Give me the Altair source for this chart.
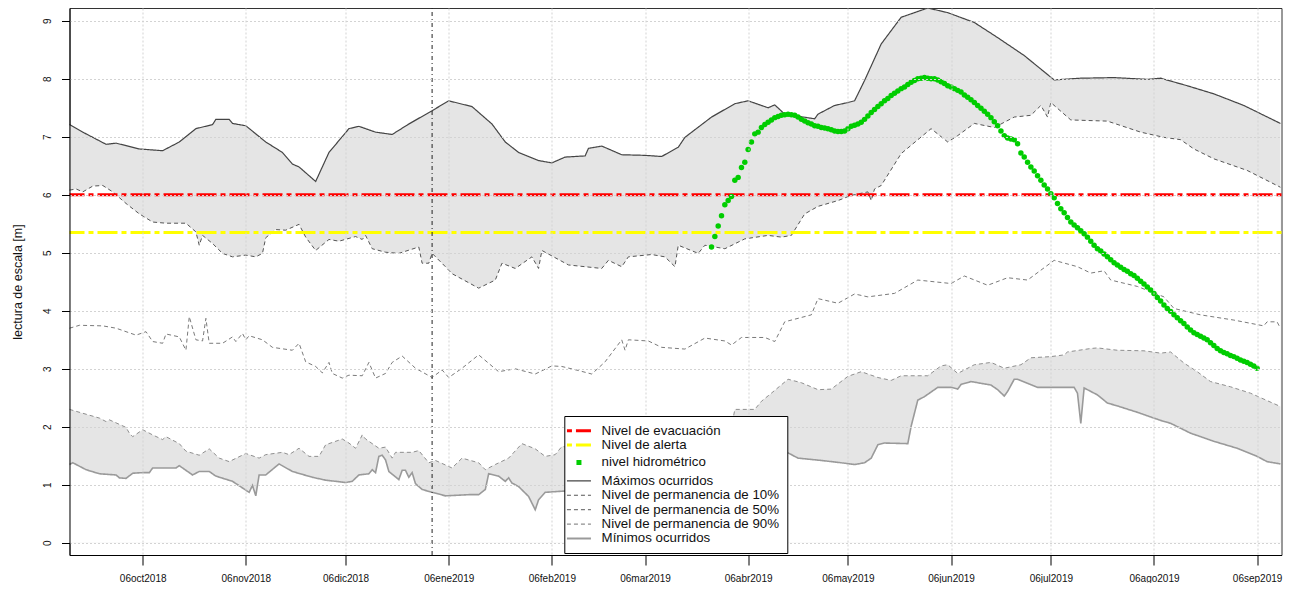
import altair as alt
import pandas as pd

FONT = "Liberation Sans"
BASE = "2018-10-06"  # día 0 de las series (días relativos)

# ---------------- datos ----------------
max_dias = [-22,-18,-11,-8,-1,6,11,16,21,22,26,27,31,37,42,45,47,52,56,62,65,70,75,80,87,92,99,105,109,113,119,123,127,133,134,138,144,151,156,161,163,171,178,182,188,190,193,202,203,208,212,214,217,222,228,236,242,250,257,265,274,282,292,302,306,314,322,331,342]
max_vals = [7.21,7.08,6.87,6.89,6.79,6.76,6.91,7.14,7.21,7.30,7.30,7.23,7.19,6.91,6.73,6.53,6.48,6.23,6.73,7.14,7.18,7.08,7.04,7.22,7.45,7.62,7.52,7.22,6.91,6.73,6.59,6.55,6.65,6.67,6.80,6.84,6.69,6.68,6.66,6.82,6.99,7.34,7.57,7.62,7.50,7.55,7.39,7.31,7.39,7.54,7.59,7.62,7.97,8.60,9.06,9.22,9.14,8.97,8.71,8.40,7.98,8.01,8.02,7.99,8.01,7.88,7.74,7.54,7.23]

p10_dias = [-22,-20,-18,-15,-12,-9,-5,-1,3,7,13,16,17,18,21,24,27,31,34,36,37,40,43,47,49,52,56,59,64,66,67,69,73,77,83,84,86,87,91,93,101,106,108,112,117,119,120,128,138,140,144,146,153,157,160,161,167,169,175,181,188,192,195,199,203,209,213,218,219,220,222,228,237,242,245,250,256,262,267,270,272,273,279,290,300,307,312,316,322,332,342]
p10_vals = [6.08,6.10,6.05,6.15,6.16,6.05,5.85,5.67,5.53,5.51,5.51,5.36,5.13,5.30,5.16,4.99,4.93,4.96,4.93,4.99,5.26,5.40,5.39,5.49,5.27,5.04,5.23,5.20,5.28,5.23,5.30,5.07,5.01,4.99,5.10,4.82,4.82,4.99,4.76,4.64,4.39,4.53,4.82,4.73,4.93,4.73,5.04,4.79,4.73,4.87,4.76,4.93,4.97,4.93,4.76,5.13,4.99,5.13,5.07,5.24,5.30,5.27,5.30,5.67,5.80,5.90,5.99,6.05,5.90,6.10,6.16,6.71,7.14,6.91,7.02,7.23,7.16,7.34,7.37,7.54,7.34,7.59,7.29,7.27,7.08,6.99,6.95,6.79,6.62,6.42,6.13]

p50_dias = [-22,-19,-12,-8,-2,1,3,6,7,11,13,14,16,18,19,20,24,27,28,30,31,32,36,39,45,47,49,52,54,56,57,60,62,66,68,70,73,75,78,82,87,90,92,96,101,107,112,118,123,126,131,135,139,144,145,146,152,156,163,169,175,177,180,187,190,193,201,203,209,214,218,226,233,238,243,247,254,260,266,274,281,285,289,291,299,307,310,318,328,337,338,341,342]
p50_vals = [3.70,3.75,3.74,3.70,3.58,3.64,3.47,3.44,3.60,3.55,3.32,3.90,3.50,3.48,3.87,3.44,3.44,3.55,3.47,3.61,3.50,3.57,3.50,3.37,3.32,3.44,3.12,3.04,2.93,3.11,2.92,2.84,2.89,2.88,3.11,2.84,2.92,3.11,3.22,3.01,2.85,2.98,2.85,3.01,3.24,2.95,3.00,2.91,3.05,3.04,2.97,2.91,3.12,3.50,3.32,3.50,3.48,3.37,3.34,3.53,3.48,3.41,3.54,3.54,3.47,3.81,3.93,4.21,4.13,4.29,4.24,4.30,4.53,4.50,4.47,4.60,4.44,4.57,4.53,4.87,4.76,4.65,4.69,4.53,4.42,4.24,4.04,3.93,3.84,3.74,3.81,3.81,3.70]

p90_dias = [-22,-13,-11,-10,-5,-4,-3,0,3,6,7,11,13,17,20,23,26,31,35,37,42,44,47,50,53,55,60,62,64,66,67,71,73,75,76,81,83,86,88,93,96,101,103,106,110,114,118,121,124,126,140,155,170,177,178,184,186,189,194,198,203,207,212,216,221,225,228,236,240,242,245,247,250,255,259,264,267,273,277,278,285,287,293,301,306,309,313,317,321,327,333,342]
p90_vals = [2.30,2.15,2.09,2.12,1.99,1.89,1.83,1.95,1.86,1.78,1.83,1.71,1.58,1.51,1.62,1.46,1.40,1.54,1.46,1.52,1.56,1.52,1.63,1.49,1.49,1.69,1.79,1.72,1.63,1.86,1.79,1.63,1.65,1.46,1.56,1.56,1.59,1.38,1.42,1.29,1.46,1.38,1.26,1.35,1.46,1.71,1.62,1.49,1.52,1.66,1.60,1.80,1.95,2.00,2.30,2.30,2.44,2.58,2.82,2.76,2.64,2.65,2.87,2.95,2.85,2.80,2.88,2.88,3.05,3.07,2.92,2.98,3.07,3.11,3.01,3.07,3.19,3.21,3.24,3.29,3.35,3.36,3.32,3.31,3.27,3.29,3.10,2.95,2.78,2.69,2.58,2.35]

min_dias = [-22,-21,-17,-13,-8,-7,-5,-3,0,2,3,10,11,15,17,20,22,27,32,33,34,35,37,41,45,51,55,61,63,65,68,69,70,71,72,73,74,77,78,79,80,81,82,84,87,91,98,101,103,104,107,109,110,111,113,116,118,119,121,126,135,150,165,180,194,197,204,210,214,217,219,221,223,230,231,233,235,239,243,245,246,249,255,257,259,260,262,263,269,280,281,282,283,287,290,293,299,306,309,315,322,329,335,338,342]
min_vals = [1.35,1.38,1.26,1.19,1.17,1.12,1.11,1.20,1.21,1.21,1.29,1.29,1.33,1.17,1.23,1.23,1.15,1.06,0.87,0.99,0.81,1.17,1.17,1.36,1.23,1.13,1.08,1.04,1.06,1.17,1.19,1.26,1.21,1.49,1.51,1.43,1.23,1.09,1.25,1.25,1.13,1.21,1.02,0.92,0.87,0.81,0.83,0.83,0.92,1.19,1.15,1.06,1.12,1.03,0.97,0.80,0.57,0.74,0.87,0.89,0.90,1.10,1.30,1.45,1.55,1.46,1.42,1.38,1.35,1.38,1.46,1.69,1.72,1.71,2.01,2.46,2.52,2.68,2.68,2.65,2.73,2.78,2.72,2.64,2.53,2.61,2.82,2.82,2.68,2.68,2.58,2.06,2.67,2.55,2.41,2.36,2.25,2.11,2.06,1.89,1.75,1.63,1.49,1.40,1.36]

hidro_inicio = "2019-03-26"
hidro_vals = [
    5.10,5.28,5.46,5.64,5.83,5.90,5.97,6.25,6.30,6.47,
    6.56,6.78,6.91,7.05,7.08,7.16,7.21,7.25,7.29,7.33,
    7.35,7.37,7.38,7.39,7.38,7.37,7.34,7.30,7.27,7.24,
    7.22,7.19,7.18,7.16,7.15,7.14,7.12,7.10,7.09,7.09,
    7.10,7.14,7.18,7.20,7.22,7.25,7.30,7.36,7.42,7.47,
    7.52,7.57,7.62,7.66,7.71,7.75,7.79,7.83,7.86,7.90,
    7.94,7.97,8.00,8.01,8.02,8.01,8.00,8.00,7.98,7.95,
    7.92,7.88,7.86,7.83,7.80,7.77,7.72,7.68,7.64,7.59,
    7.54,7.49,7.44,7.39,7.33,7.26,7.19,7.10,7.02,6.98,
    6.96,6.95,6.88,6.72,6.65,6.56,6.48,6.41,6.33,6.25,
    6.17,6.10,6.02,5.95,5.85,5.76,5.69,5.61,5.53,5.48,
    5.43,5.38,5.33,5.27,5.20,5.13,5.07,5.03,4.98,4.93,
    4.88,4.83,4.79,4.75,4.71,4.68,4.64,4.61,4.56,4.51,
    4.46,4.41,4.36,4.30,4.23,4.17,4.10,4.04,3.99,3.93,
    3.88,3.83,3.78,3.72,3.67,3.62,3.59,3.56,3.53,3.50,
    3.45,3.40,3.35,3.31,3.28,3.26,3.23,3.21,3.18,3.15,
    3.13,3.11,3.08,3.05,3.01,
]

niveles_nombre = ["Nivel de evacuación", "Nivel de alerta"]
niveles_valor = [6.0, 5.35]

anio_fecha = ["2019-01-01"]
anio_texto = ["2019"]
anio_y = [9.27]

mes_ticks = [(2018, 10), (2018, 11), (2018, 12), (2019, 1), (2019, 2), (2019, 3),
             (2019, 4), (2019, 5), (2019, 6), (2019, 7), (2019, 8), (2019, 9)]

SERIES = ["Nivel de evacuación", "Nivel de alerta", "nivel hidrométrico",
          "Máximos ocurridos", "Nivel de permanencia de 10%",
          "Nivel de permanencia de 50%", "Nivel de permanencia de 90%",
          "Mínimos ocurridos"]

# ---------------- estilos ----------------
COLORES = ["#ff0000", "#ffff00", "#00cd00", "#444444", "#555555", "#7a7a7a", "#8f8f8f", "#9a9a9a"]
DASHES = [[5, 4, 20, 4], [5, 4, 20, 4], [0, 9.5, 5, 1000], [1, 0], [4, 3], [4, 3], [4, 3], [1, 0]]
BAND = "#e5e5e5"
GRID = "#d3d3d3"


def serie_df(dias, vals, nombre):
    f = pd.Timestamp(BASE) + pd.to_timedelta(dias, unit="D")
    return pd.DataFrame({"fecha": f.strftime("%Y-%m-%d"), "valor": vals, "serie": nombre})


df_max = serie_df(max_dias, max_vals, SERIES[3])
df_p10 = serie_df(p10_dias, p10_vals, SERIES[4])
df_p50 = serie_df(p50_dias, p50_vals, SERIES[5])
df_p90 = serie_df(p90_dias, p90_vals, SERIES[6])
df_min = serie_df(min_dias, min_vals, SERIES[7])

hidro_f = pd.date_range(hidro_inicio, periods=len(hidro_vals), freq="D")
df_hidro = pd.DataFrame({"fecha": hidro_f.strftime("%Y-%m-%d"), "valor": hidro_vals})
df_niv = pd.DataFrame({"valor": niveles_valor, "serie": niveles_nombre})
df_anio = pd.DataFrame({"fecha": anio_fecha, "valor": anio_y, "texto": anio_texto})

# ---------------- escalas y ejes ----------------
x_scale = alt.Scale(type="utc",
                    domain=[alt.DateTime(year=2018, month=9, date=14, utc=True),
                            alt.DateTime(year=2019, month=9, date=13, hours=8, utc=True)])
y_scale = alt.Scale(domain=[-0.21, 9.22], nice=False, zero=False)

label_expr = ("utcFormat(datum.value, '%d') + "
              "['ene','feb','mar','abr','may','jun','jul','ago','sep','oct','nov','dic']"
              "[utcmonth(datum.value)] + utcFormat(datum.value, '%Y')")

x_axis = alt.Axis(values=[alt.DateTime(year=y, month=m, date=6, utc=True) for y, m in mes_ticks],
                  labelExpr=label_expr, title=None, labelFont=FONT, labelFontSize=10,
                  labelColor="#111", labelPadding=8, labelAngle=0, labelFlush=False,
                  labelOverlap=False, tickSize=10, tickColor="#000", domainColor="#000",
                  grid=True, gridColor=GRID, gridDash=[2, 2], zindex=1)
y_axis = alt.Axis(values=list(range(10)), title="lectura de escala [m]", titleFont=FONT,
                  titleFontSize=12.5, titleFontWeight="normal", titleColor="#111",
                  titleX=-52, titleY=273.5, titleAlign="center", titleBaseline="middle",
                  labelAngle=-90, labelAlign="center", labelBaseline="bottom",
                  labelFont=FONT, labelFontSize=10, labelColor="#111", labelPadding=9,
                  tickSize=8, tickColor="#000", domainColor="#000",
                  grid=True, gridColor=GRID, gridDash=[2, 2], zindex=1)

X = alt.X("fecha:T", scale=x_scale, axis=x_axis)
Y = alt.Y("valor:Q", scale=y_scale, axis=y_axis)

width_expr = ("datum.value == 'Nivel de evacuación' || datum.value == 'Nivel de alerta' ? 3 : "
              "datum.value == 'nivel hidrométrico' ? 5 : "
              "datum.value == 'Mínimos ocurridos' ? 2 : 1.2")

leg = alt.Legend(orient="none", legendX=494.8, legendY=408, fillColor="white",
                 strokeColor="black", padding=8, labelFont=FONT, labelFontSize=13.3,
                 labelColor="#111", labelLimit=400, symbolType="stroke", symbolSize=576,
                 symbolStrokeWidth={"expr": width_expr}, rowPadding=0.4, labelOffset=16,
                 zindex=2, cornerRadius=0)

COLOR = alt.Color("serie:N", scale=alt.Scale(domain=SERIES, range=COLORES), legend=leg, title=None)
DASH = alt.StrokeDash("serie:N", scale=alt.Scale(domain=SERIES, range=DASHES), legend=leg, title=None)

# ---------------- capas ----------------
band_max = alt.Chart(df_max).mark_area(color=BAND, opacity=1).encode(x=X, y=Y)
band_p10 = alt.Chart(df_p10).mark_area(color="white", opacity=1).encode(x=X, y=Y)
band_p90 = alt.Chart(df_p90).mark_area(color=BAND, opacity=1).encode(x=X, y=Y)
band_min = alt.Chart(df_min).mark_area(color="white", opacity=1).encode(x=X, y=Y)


def linea(df, w):
    return alt.Chart(df).mark_line().encode(x=X, y=Y, color=COLOR, strokeDash=DASH,
                                            strokeWidth=alt.value(w))


l_max = linea(df_max, 1.2)
l_p10 = linea(df_p10, 1)
l_p50 = linea(df_p50, 1)
l_p90 = linea(df_p90, 1)
l_min = linea(df_min, 1.6)

niveles = alt.Chart(df_niv).mark_rule().encode(y=Y, color=COLOR, strokeDash=DASH,
                                                strokeWidth=alt.value(3))

v_anio = alt.Chart(df_anio).mark_rule(color="#222", strokeWidth=1, strokeDash=[1, 3, 4, 3]).encode(x=X)
t_anio = alt.Chart(df_anio).mark_text(align="left", baseline="alphabetic", dx=2, font=FONT,
                                      fontSize=13, color="#111").encode(x=X, y=Y, text="texto:N")

puntos = alt.Chart(df_hidro).mark_circle(color="#00cd00", size=30, opacity=1).encode(x=X, y=Y)

chart = alt.layer(
    band_max, band_p10, band_p90, band_min,
    l_max, l_p10, l_p50, l_p90, l_min,
    niveles, v_anio, t_anio, puntos,
).properties(
    width=1212, height=547,
    padding={"left": 61.5, "top": 0, "right": 1, "bottom": 28},
    autosize=alt.AutoSizeParams(type="none"),
).configure_view(stroke="#333", strokeWidth=1)

chart.save("out.html", embed_options={"renderer": "svg", "actions": False})
